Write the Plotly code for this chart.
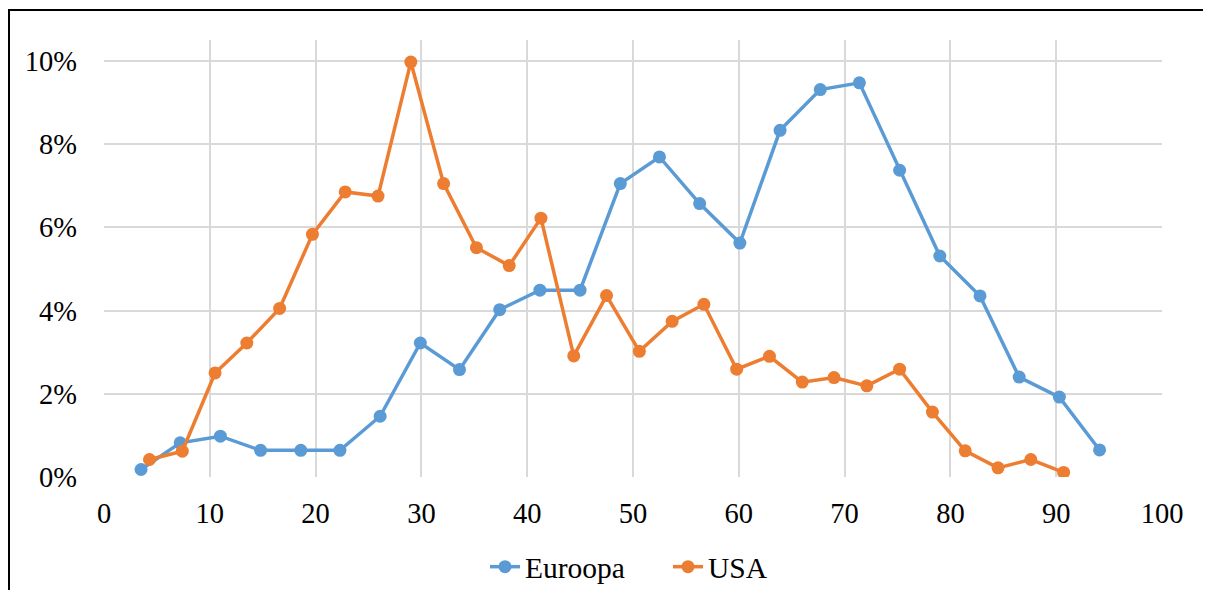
import plotly.graph_objects as go

# Europe (blue) series
eu_x = [3.5, 7.2, 11.0, 14.8, 18.6, 22.3, 26.1, 29.9, 33.6, 37.4, 41.2, 45.0, 48.8,
        52.5, 56.3, 60.1, 63.9, 67.7, 71.4, 75.2, 79.0, 82.8, 86.5, 90.3, 94.1]
eu_y = [0.0018, 0.0082, 0.0098, 0.0064, 0.0064, 0.0064, 0.0146, 0.0322, 0.0258, 0.0402,
        0.0449, 0.0449, 0.0705, 0.0769, 0.0657, 0.0562, 0.0833, 0.0931, 0.0947, 0.0737,
        0.0531, 0.0435, 0.0240, 0.0192, 0.0065]

# USA (orange) series
us_x = [4.3, 7.4, 10.5, 13.5, 16.6, 19.7, 22.8, 25.9, 29.0, 32.1, 35.2, 38.3, 41.3,
        44.4, 47.5, 50.6, 53.7, 56.7, 59.8, 62.9, 66.0, 69.0, 72.1, 75.2, 78.3, 81.4,
        84.5, 87.6, 90.7]
us_y = [0.0042, 0.0062, 0.0250, 0.0322, 0.0405, 0.0583, 0.0685, 0.0675, 0.0997, 0.0705,
        0.0551, 0.0508, 0.0622, 0.0291, 0.0436, 0.0302, 0.0374, 0.0415, 0.0259, 0.0290,
        0.0228, 0.0239, 0.0219, 0.0259, 0.0156, 0.0063, 0.0022, 0.0042, 0.0011]

x_ticks = [0, 10, 20, 30, 40, 50, 60, 70, 80, 90, 100]
y_ticks = [0, 0.02, 0.04, 0.06, 0.08, 0.10]
y_tick_labels = ["0%", "2%", "4%", "6%", "8%", "10%"]

BLUE = "#5B9BD5"
ORANGE = "#ED7D31"
FONT = "Liberation Serif"
FS = 28.5
LFS = 29.5

# page body has an 8px margin on every side, so the figure is sized to fit inside it
W, H = 1195, 582
L, T, PW, PH = 96, 32, 1058, 437
R = W - L - PW
B = H - T - PH

def px_x(v):
    return (v - L) / PW

def px_y(v):
    return (T + PH - v) / PH

fig = go.Figure()
fig.add_trace(go.Scatter(x=eu_x, y=eu_y, mode="lines+markers", name="Euroopa",
                         line=dict(color=BLUE, width=3.5),
                         marker=dict(color=BLUE, size=13)))
fig.add_trace(go.Scatter(x=us_x, y=us_y, mode="lines+markers", name="USA",
                         line=dict(color=ORANGE, width=3.5),
                         marker=dict(color=ORANGE, size=13)))

border = dict(color="black", width=2)

fig.update_layout(
    width=W, height=H,
    margin=dict(l=L, r=R, t=T, b=B, autoexpand=False),
    paper_bgcolor="white", plot_bgcolor="white",
    font=dict(family=FONT, size=FS, color="black"),
    showlegend=True,
    legend=dict(orientation="h", x=0.5 + 35 / PW, xanchor="center", y=px_y(559),
                yanchor="middle",
                font=dict(family=FONT, size=LFS, color="black"),
                entrywidth=138, entrywidthmode="pixels", tracegroupgap=0),
    xaxis=dict(range=[0, 100], tickvals=x_ticks, ticktext=[str(v) for v in x_ticks],
               showgrid=True, gridcolor="#D9D9D9", gridwidth=1.7, automargin=False,
               zeroline=False, showline=False, ticks="", ticklabelstandoff=16,
               tickfont=dict(family=FONT, size=FS, color="black")),
    yaxis=dict(range=[0, 0.105], tickvals=y_ticks, ticktext=y_tick_labels,
               showgrid=True, gridcolor="#D9D9D9", gridwidth=1.7, automargin=False,
               zeroline=False, showline=False, ticks="", ticklabelstandoff=26,
               tickfont=dict(family=FONT, size=FS, color="black")),
    shapes=[
        # chart frame: only its left and top sides fall inside the picture
        dict(type="line", xref="paper", yref="paper",
             x0=px_x(1), x1=px_x(1), y0=px_y(H), y1=px_y(1),
             line=border, layer="below"),
        dict(type="line", xref="paper", yref="paper",
             x0=px_x(0), x1=px_x(W), y0=px_y(2), y1=px_y(2),
             line=border, layer="below"),
    ],
)

fig.write_html(
    "out.html",
    post_script="document.documentElement.style.overflow='hidden';"
                "document.body.style.overflow='hidden';",
)
